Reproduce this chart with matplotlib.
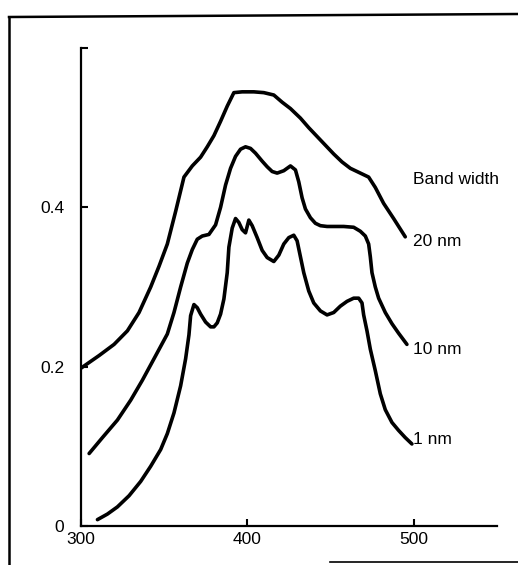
import numpy as np
from matplotlib import pyplot as plt
from matplotlib.lines import Line2D

plt.rcParams['font.family'] = ['Liberation Sans', 'DejaVu Sans']

# curvas (longitud de onda, absorbancia)
x20 = [300, 311, 320, 328, 335, 342, 347, 352, 357, 362, 367, 372, 376, 380, 384,
       388, 392, 397, 404, 410, 416, 421, 426, 432, 437, 442, 447, 452, 457, 462,
       468, 473, 477, 482, 488, 495]
y20 = [0.198, 0.214, 0.228, 0.245, 0.268, 0.300, 0.326, 0.354, 0.395, 0.438, 0.452, 0.463,
       0.476, 0.490, 0.508, 0.527, 0.544, 0.545, 0.545, 0.544, 0.541, 0.532, 0.524, 0.512,
       0.500, 0.489, 0.478, 0.467, 0.457, 0.449, 0.443, 0.438, 0.425, 0.405, 0.386, 0.363]

x10 = [305, 313, 322, 330, 337, 344, 352, 356, 360, 364, 367, 370, 373, 377, 381,
       384, 387, 390, 393, 396, 399, 402, 405, 409, 412, 415, 418, 422, 426, 429,
       431, 433, 435, 438, 441, 444, 448, 452, 458, 464, 468, 471, 473, 474, 475,
       477, 479, 483, 487, 491, 496]
y10 = [0.091, 0.111, 0.133, 0.158, 0.183, 0.210, 0.241, 0.268, 0.300, 0.330, 0.347, 0.360,
       0.364, 0.366, 0.378, 0.400, 0.428, 0.449, 0.464, 0.473, 0.476, 0.474, 0.468, 0.458,
       0.451, 0.445, 0.443, 0.446, 0.452, 0.447, 0.432, 0.412, 0.398, 0.387, 0.380, 0.377,
       0.376, 0.376, 0.376, 0.375, 0.370, 0.364, 0.354, 0.338, 0.318, 0.300, 0.286, 0.268,
       0.254, 0.242, 0.228]

x1 = [310, 316, 322, 329, 336, 342, 348, 352, 356, 360, 363, 365, 366, 368, 370,
      372, 375, 378, 380, 382, 384, 386, 388, 389, 391, 393, 395, 397, 399, 401,
      403, 406, 409, 412, 416, 419, 422, 425, 428, 430, 432, 434, 437, 440, 444,
      448, 452, 456, 460, 464, 467, 469, 470, 472, 474, 477, 480, 483, 487, 491,
      495, 499]
y1 = [0.008, 0.015, 0.024, 0.038, 0.056, 0.075, 0.096, 0.116, 0.142, 0.176, 0.210, 0.240,
      0.264, 0.278, 0.274, 0.266, 0.256, 0.250, 0.250, 0.255, 0.266, 0.285, 0.318, 0.350,
      0.374, 0.386, 0.381, 0.372, 0.368, 0.384, 0.377, 0.362, 0.346, 0.337, 0.332, 0.340,
      0.354, 0.362, 0.365, 0.358, 0.338, 0.318, 0.295, 0.280, 0.270, 0.265, 0.268, 0.276,
      0.282, 0.286, 0.286, 0.280, 0.265, 0.245, 0.222, 0.195, 0.166, 0.146, 0.130, 0.120,
      0.111, 0.103]

xticks = [300, 400, 500]
yticks = [0, 0.2, 0.4, 0.6]
ylabels = ['0', '0.2', '0.4', '']
etiquetas = ['20 nm', '10 nm', '1 nm']
y_etiquetas = [0.357, 0.221, 0.108]

fig = plt.figure(figsize=(5.18, 5.65), dpi=100)
ax = fig.add_axes([0.156, 0.069, 0.803, 0.846])

for xs, ys in [(x20, y20), (x10, y10), (x1, y1)]:
    ax.plot(xs, ys, color='black', lw=2.6, solid_joinstyle='round', solid_capstyle='round')

ax.set_xlim(300, 550)
ax.set_ylim(0, 0.6)
ax.set_xticks(xticks)
ax.set_yticks(yticks)
ax.set_yticklabels(ylabels)
ax.tick_params(direction='in', length=5, width=1.5, labelsize=12.5)
ax.tick_params(axis='y', pad=12)
ax.tick_params(axis='x', pad=4)
for s in ['top', 'right']:
    ax.spines[s].set_visible(False)
for s in ['left', 'bottom']:
    ax.spines[s].set_linewidth(1.6)

# texto de la leyenda
ax.text(499.4, 0.435, 'Band width', fontsize=12.5, va='center', ha='left')
for t, yy in zip(etiquetas, y_etiquetas):
    ax.text(499.8, yy, t, fontsize=12.5, va='center', ha='left')

# marco de la figura escaneada
fig.add_artist(Line2D([9/518, 9/518], [0, 1 - 17/565], color='black', lw=1.8))
fig.add_artist(Line2D([9/518, 1], [1 - 17/565, 1 - 14/565], color='black', lw=1.8))
fig.add_artist(Line2D([330/518, 1], [1 - 562/565, 1 - 562/565], color='black', lw=1.2))

plt.savefig('out.png', dpi=100)
